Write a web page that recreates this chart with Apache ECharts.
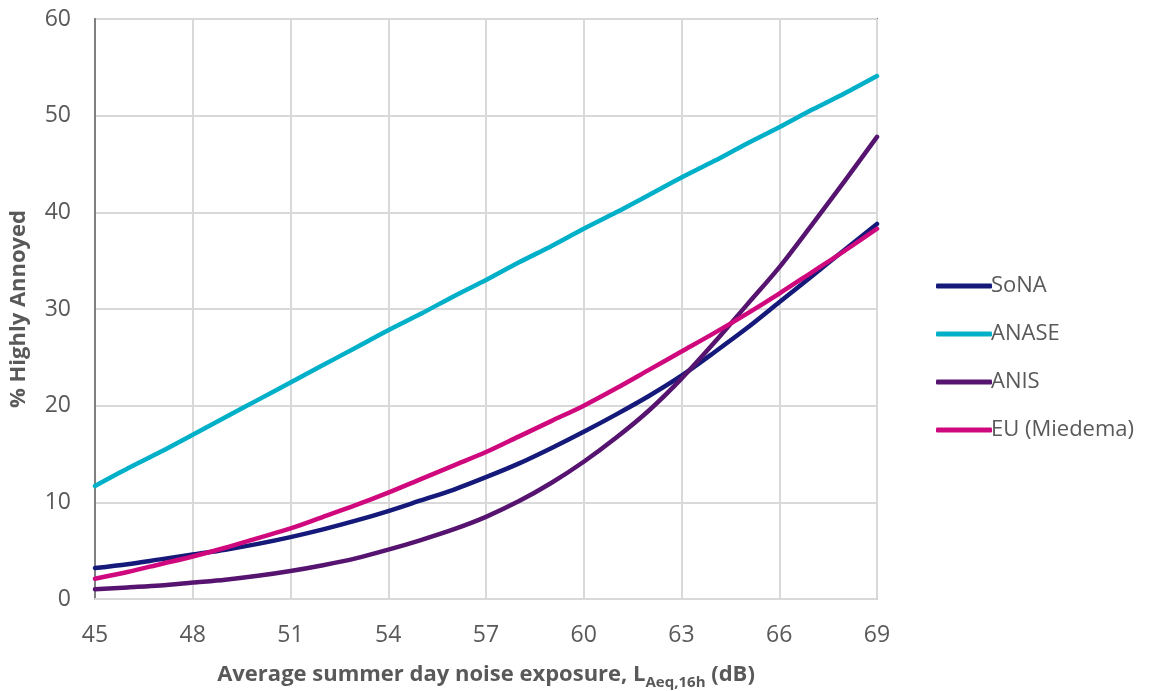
<!DOCTYPE html>
<html><head><meta charset="utf-8">
<script src="https://cdn.jsdelivr.net/npm/echarts@6/dist/echarts.min.js"></script>
<style>html,body{margin:0;padding:0;background:#fff}#c{width:1153px;height:691px}</style>
</head><body><div id="c"></div>
<script>
const xValues = [45,46,47,48,49,50,51,52,53,54,55,56,57,58,59,60,61,62,63,64,65,66,67,68,69];
const sona  = [3.2,3.6,4.1,4.6,5.1,5.7,6.4,7.2,8.1,9.1,10.2,11.3,12.6,14.0,15.6,17.3,19.1,21.0,23.1,25.5,28.0,30.7,33.4,36.1,38.8];
const anase = [11.7,13.5,15.2,17.0,18.8,20.6,22.4,24.2,26.0,27.8,29.5,31.3,33.0,34.8,36.5,38.3,40.0,41.8,43.6,45.3,47.1,48.8,50.6,52.3,54.1];
const anis  = [1.0,1.2,1.4,1.7,2.0,2.4,2.9,3.5,4.2,5.1,6.1,7.2,8.5,10.1,12.0,14.2,16.7,19.5,22.8,26.5,30.4,34.3,38.7,43.2,47.8];
const eu    = [2.1,2.8,3.6,4.4,5.3,6.3,7.3,8.5,9.7,11.0,12.4,13.8,15.2,16.8,18.4,20.0,21.8,23.7,25.6,27.5,29.5,31.6,33.8,36.0,38.3];
const seriesNames = ['SoNA','ANASE','ANIS','EU (Miedema)'];
const seriesColors = ['#14197a','#00b0c8','#561470','#d0087e'];
const seriesData = [sona, anase, anis, eu];

const font = 'Open Sans, Liberation Sans, sans-serif';
const chart = echarts.init(document.getElementById('c'));
chart.setOption({
  animation:false,
  textStyle:{fontFamily:font},
  grid:{left:95,right:276,top:19,bottom:92,show:true,borderColor:'#7f7f7f',borderWidth:2,outerBoundsMode:'none',containLabel:false},
  legend:{
    orient:'vertical', left:931, top:270, itemWidth:56, itemHeight:5, itemGap:26,
    icon:'roundRect',
    textStyle:{fontSize:22,color:'#595959',fontFamily:font,padding:[0,0,0,-6]},
    data:seriesNames
  },
  xAxis:{
    type:'value', min:45, max:69, interval:3,
    axisLine:{show:true,lineStyle:{color:'#d9d9d9',width:2}},
    axisTick:{show:false},
    splitLine:{show:true,lineStyle:{color:'#d9d9d9',width:2}},
    axisLabel:{fontSize:23,color:'#595959',margin:25,fontFamily:font},
    name:'{b|Average summer day noise exposure, L}{s|Aeq,16h}{b| (dB)}',
    nameLocation:'middle', nameGap:65,
    nameTextStyle:{rich:{
      b:{fontSize:22,fontWeight:'bold',color:'#595959',fontFamily:font,lineHeight:26,verticalAlign:'top'},
      s:{fontSize:15,fontWeight:'bold',color:'#595959',fontFamily:font,lineHeight:26,verticalAlign:'bottom',padding:[12,0,0,0]}
    }}
  },
  yAxis:{
    type:'value', min:0, max:60, interval:10,
    axisLine:{show:true,lineStyle:{color:'#7f7f7f',width:2}},
    axisTick:{show:false},
    splitLine:{show:true,lineStyle:{color:'#d9d9d9',width:2}},
    axisLabel:{fontSize:23,color:'#595959',margin:24,fontFamily:font},
    name:'% Highly Annoyed', nameLocation:'middle', nameGap:65,
    nameTextStyle:{fontSize:22,fontWeight:'bold',color:'#595959',fontFamily:font}
  },
  series: seriesNames.map((n,i)=>({
    name:n, type:'line', smooth:0.3, showSymbol:false, symbol:'none',
    data: xValues.map((x,j)=>[x, seriesData[i][j]]),
    lineStyle:{color:seriesColors[i],width:4.5,cap:'round'},
    itemStyle:{color:seriesColors[i]}
  }))
});
</script></body></html>
